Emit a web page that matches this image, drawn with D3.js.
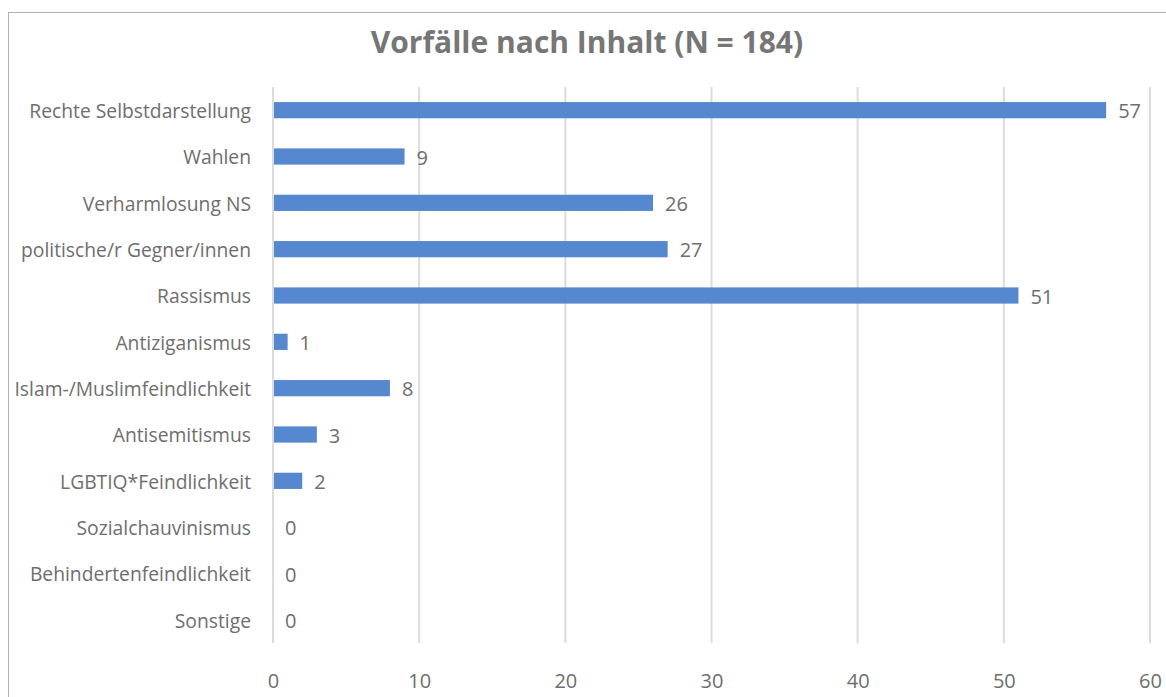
<!DOCTYPE html>
<html>
<head>
<meta charset="utf-8">
<script src="https://cdn.jsdelivr.net/npm/d3@7"></script>
<style>
  body { margin: 0; background: #fff; }
  text { font-family: "Open Sans", "Noto Sans", sans-serif; }
</style>
</head>
<body>
<script>
var categories = ["Rechte Selbstdarstellung", "Wahlen", "Verharmlosung NS", "politische/r Gegner/innen",
  "Rassismus", "Antiziganismus", "Islam-/Muslimfeindlichkeit", "Antisemitismus",
  "LGBTIQ*Feindlichkeit", "Sozialchauvinismus", "Behindertenfeindlichkeit", "Sonstige"];
var counts = [57, 9, 26, 27, 51, 1, 8, 3, 2, 0, 0, 0];
var xTicks = [0, 10, 20, 30, 40, 50, 60];
var title = "Vorfälle nach Inhalt (N = 184)";

var width = 1166, height = 697;
var plotLeft = 273, plotRight = 1150, plotTop = 87, plotBottom = 643;

var svg = d3.select("body").append("svg")
  .attr("width", width)
  .attr("height", height);

// chart frame
svg.append("rect")
  .attr("x", 8.5).attr("y", 12.5)
  .attr("width", 1170).attr("height", 700)
  .attr("fill", "none")
  .attr("stroke", "#b0b0b0")
  .attr("stroke-width", 1);

svg.append("text")
  .attr("x", 587).attr("y", 53)
  .attr("text-anchor", "middle")
  .attr("font-size", 30)
  .attr("font-weight", "bold")
  .attr("fill", "#767676")
  .text(title);

var x = d3.scaleLinear().domain([0, 60]).range([plotLeft, plotRight]);
var y = d3.scaleBand().domain(categories).range([plotTop, plotBottom]).paddingInner(0.65).paddingOuter(0.325);

// gridlines
svg.selectAll(".grid")
  .data(xTicks)
  .enter().append("line")
  .attr("x1", function(d){ return x(d); })
  .attr("x2", function(d){ return x(d); })
  .attr("y1", plotTop).attr("y2", plotBottom)
  .attr("stroke", "#dcdcdc")
  .attr("stroke-width", 2);

// x axis
var xAxis = d3.axisBottom(x).tickValues(xTicks).tickSize(0).tickPadding(0);
var gx = svg.append("g")
  .attr("transform", "translate(0," + (plotBottom + 31) + ")")
  .call(xAxis);
gx.select(".domain").remove();
gx.selectAll("text")
  .attr("font-size", 20)
  .attr("fill", "#6e6e6e");

// y axis
var yAxis = d3.axisLeft(y).tickSize(0).tickPadding(22);
var gy = svg.append("g")
  .attr("transform", "translate(" + plotLeft + ",0)")
  .call(yAxis);
gy.select(".domain").remove();
gy.selectAll("text")
  .attr("font-size", 19.3)
  .attr("dy", "0.4em")
  .attr("fill", "#6e6e6e");

// bars
svg.selectAll(".bar")
  .data(counts)
  .enter().append("rect")
  .attr("x", x(0) + 1)
  .attr("y", function(d, i){ return y(categories[i]); })
  .attr("width", function(d){ return Math.max(0, x(d) - x(0) - 1); })
  .attr("height", y.bandwidth())
  .attr("fill", "#5588ce");

// value labels
svg.selectAll(".val")
  .data(counts)
  .enter().append("text")
  .attr("x", function(d){ return x(d) + 12; })
  .attr("y", function(d, i){ return y(categories[i]) + y.bandwidth() / 2; })
  .attr("dy", "0.4em")
  .attr("font-size", 20)
  .attr("fill", "#6e6e6e")
  .text(function(d){ return d; });
</script>
</body>
</html>
